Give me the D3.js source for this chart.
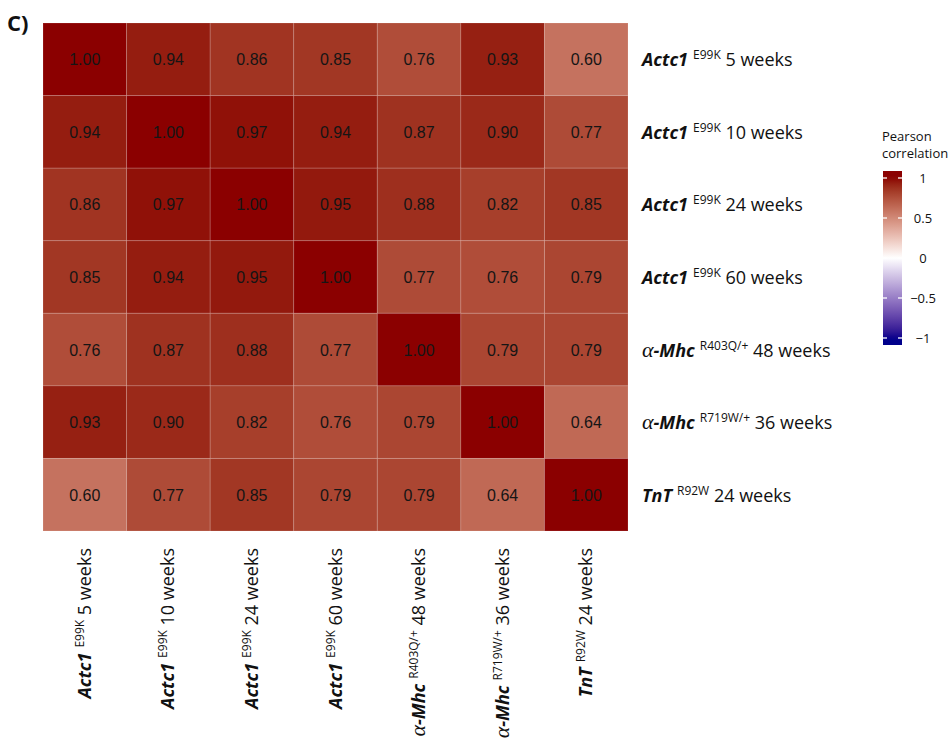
<!DOCTYPE html>
<html>
<head>
<meta charset="utf-8">
<script src="https://cdn.jsdelivr.net/npm/d3@7"></script>
<style>
  body { margin: 0; background: #fff; }
  svg { display: block; }
</style>
</head>
<body>
<div id="chart"></div>
<script>
// samples, in the same order for rows and columns
const genes = ["Actc1", "Actc1", "Actc1", "Actc1", "α-Mhc", "α-Mhc", "TnT"];
const alleles = ["E99K", "E99K", "E99K", "E99K", "R403Q/+", "R719W/+", "R92W"];
const ages = ["5 weeks", "10 weeks", "24 weeks", "60 weeks", "48 weeks", "36 weeks", "24 weeks"];

// pearson correlations, row by row
const corr = [
    [1.00, 0.94, 0.86, 0.85, 0.76, 0.93, 0.60],
    [0.94, 1.00, 0.97, 0.94, 0.87, 0.90, 0.77],
    [0.86, 0.97, 1.00, 0.95, 0.88, 0.82, 0.85],
    [0.85, 0.94, 0.95, 1.00, 0.77, 0.76, 0.79],
    [0.76, 0.87, 0.88, 0.77, 1.00, 0.79, 0.79],
    [0.93, 0.90, 0.82, 0.76, 0.79, 1.00, 0.64],
    [0.60, 0.77, 0.85, 0.79, 0.79, 0.64, 1.00]
];

const legendTicks = [1, 0.5, 0, -0.5, -1];

const width = 951;
const height = 739;
const labelFont = "'Open Sans', 'Noto Sans', sans-serif";

// Lab with a D65 white point (like ggplot's gradient2), d3's own lab is D50
function toLab65(c) {
    const rgb = d3.rgb(c);
    const lin = v => { v /= 255; return v <= 0.04045 ? v / 12.92 : Math.pow((v + 0.055) / 1.055, 2.4); };
    const r = lin(rgb.r), g = lin(rgb.g), b = lin(rgb.b);
    const X = (0.4124 * r + 0.3576 * g + 0.1805 * b) / 0.95047;
    const Y = 0.2126 * r + 0.7152 * g + 0.0722 * b;
    const Z = (0.0193 * r + 0.1192 * g + 0.9505 * b) / 1.08883;
    const f = t => t > 0.008856 ? Math.cbrt(t) : 7.787 * t + 16 / 116;
    return [116 * f(Y) - 16, 500 * (f(X) - f(Y)), 200 * (f(Y) - f(Z))];
}
function fromLab65(L, a, bb) {
    const fy = (L + 16) / 116, fx = fy + a / 500, fz = fy - bb / 200;
    const inv = t => t * t * t > 0.008856 ? t * t * t : (t - 16 / 116) / 7.787;
    const X = inv(fx) * 0.95047, Y = inv(fy), Z = inv(fz) * 1.08883;
    const gam = v => { v = v <= 0.0031308 ? 12.92 * v : 1.055 * Math.pow(v, 1 / 2.4) - 0.055; return Math.max(0, Math.min(255, Math.round(v * 255))); };
    return d3.rgb(
        gam(3.2406 * X - 1.5372 * Y - 0.4986 * Z),
        gam(-0.9689 * X + 1.8758 * Y + 0.0415 * Z),
        gam(0.0557 * X - 0.2040 * Y + 1.0570 * Z)
    ).formatHex();
}
function interpolateLab65(a, b) {
    const A = toLab65(a), B = toLab65(b);
    return t => fromLab65(A[0] + (B[0] - A[0]) * t, A[1] + (B[1] - A[1]) * t, A[2] + (B[2] - A[2]) * t);
}

const svg = d3.select("#chart")
    .append("svg")
    .attr("width", width)
    .attr("height", height);

svg.append("rect").attr("width", width).attr("height", height).attr("fill", "#fff");

const idx = d3.range(genes.length);

const x = d3.scaleBand().domain(idx).range([43, 628]);
const y = d3.scaleBand().domain(idx).range([23, 531]);

const color = d3.scaleLinear()
    .domain([-1, 0, 1])
    .range(["#00008B", "#FFFFFF", "#8B0000"])
    .interpolate(interpolateLab65)
    .clamp(true);

const cells = [];
corr.forEach((row, i) => row.forEach((v, j) => cells.push({ i, j, v })));

svg.append("g")
    .selectAll("rect")
    .data(cells)
    .enter()
    .append("rect")
    .attr("x", d => x(d.j))
    .attr("y", d => y(d.i))
    .attr("width", x.bandwidth())
    .attr("height", y.bandwidth())
    .attr("fill", d => color(d.v))
    .attr("stroke", "rgba(255,255,255,0.15)")
    .attr("stroke-width", 1);

svg.append("g")
    .selectAll("text")
    .data(cells)
    .enter()
    .append("text")
    .attr("x", d => x(d.j) + x.bandwidth() / 2)
    .attr("y", d => y(d.i) + y.bandwidth() / 2 + 6)
    .attr("text-anchor", "middle")
    .attr("font-family", "'Liberation Sans', Arial, sans-serif")
    .attr("font-size", 16)
    .attr("fill", "#151515")
    .text(d => d.v.toFixed(2));

// gene name italic bold (greek prefix not bold), allele superscript, age plain
function sampleLabel(sel, k) {
    const g = genes[k];
    const m = g.match(/^([α-ω])(.*)$/);
    if (m) {
        sel.append("tspan")
            .attr("font-family", "'Liberation Serif', serif")
            .attr("font-style", "italic")
            .attr("font-size", 22)
            .text(m[1]);
        sel.append("tspan")
            .attr("font-style", "italic")
            .attr("font-weight", "bold")
            .text(m[2]);
    } else {
        sel.append("tspan")
            .attr("font-style", "italic")
            .attr("font-weight", "bold")
            .text(g);
    }
    sel.append("tspan")
        .attr("font-size", 12)
        .attr("dy", -7)
        .attr("dx", 5)
        .text(alleles[k]);
    sel.append("tspan")
        .attr("dy", 7)
        .text(" " + ages[k]);
}

// row labels on the right
svg.append("g")
    .selectAll("text")
    .data(idx)
    .enter()
    .append("text")
    .attr("x", 642)
    .attr("y", d => y(d) + y.bandwidth() / 2 + 7)
    .attr("font-family", labelFont)
    .attr("font-size", 18)
    .attr("fill", "#111")
    .each(function(d) { sampleLabel(d3.select(this), d); });

// column labels below, rotated
svg.append("g")
    .selectAll("text")
    .data(idx)
    .enter()
    .append("text")
    .attr("transform", d => `translate(${x(d) + x.bandwidth() / 2 + 6},548) rotate(-90)`)
    .attr("text-anchor", "end")
    .attr("font-family", labelFont)
    .attr("font-size", 18)
    .attr("fill", "#111")
    .each(function(d) { sampleLabel(d3.select(this), d); });

// panel letter
svg.append("text")
    .attr("x", 7)
    .attr("y", 31)
    .attr("font-family", labelFont)
    .attr("font-weight", "bold")
    .attr("font-size", 22)
    .attr("fill", "#111")
    .text("C)");

// legend
const lg = svg.append("g");
lg.append("text")
    .attr("font-family", labelFont)
    .attr("font-size", 13)
    .attr("fill", "#111")
    .selectAll("tspan")
    .data(["Pearson", "correlation"])
    .enter()
    .append("tspan")
    .attr("x", 882)
    .attr("y", (d, i) => 141 + i * 17)
    .text(d => d);

const ly = d3.scaleLinear().domain([1, -1]).range([178, 338]);
const barX = 883;
const barW = 19;
const barTop = 171;
const barBot = 345;

const grad = svg.append("defs").append("linearGradient")
    .attr("id", "pearson-grad")
    .attr("x1", 0).attr("y1", 0).attr("x2", 0).attr("y2", 1);
d3.range(0, 1.0001, 0.025).forEach(t => {
    const v = ly.invert(barTop + t * (barBot - barTop));
    grad.append("stop")
        .attr("offset", t)
        .attr("stop-color", color(v));
});

lg.append("rect")
    .attr("x", barX)
    .attr("y", barTop)
    .attr("width", barW)
    .attr("height", barBot - barTop)
    .attr("fill", "url(#pearson-grad)");

lg.selectAll(".tick-l")
    .data(legendTicks)
    .enter()
    .append("line")
    .attr("x1", barX).attr("x2", barX + 4)
    .attr("y1", d => ly(d)).attr("y2", d => ly(d))
    .attr("stroke", "#fff").attr("stroke-width", 1.3);

lg.selectAll(".tick-r")
    .data(legendTicks)
    .enter()
    .append("line")
    .attr("x1", barX + barW - 4).attr("x2", barX + barW)
    .attr("y1", d => ly(d)).attr("y2", d => ly(d))
    .attr("stroke", "#fff").attr("stroke-width", 1.3);

lg.selectAll(".tick-label")
    .data(legendTicks)
    .enter()
    .append("text")
    .attr("x", 923)
    .attr("y", d => ly(d) + 5)
    .attr("text-anchor", "middle")
    .attr("font-family", labelFont)
    .attr("font-size", 13)
    .attr("fill", "#111")
    .text(d => d3.format("")(d));
</script>
</body>
</html>
